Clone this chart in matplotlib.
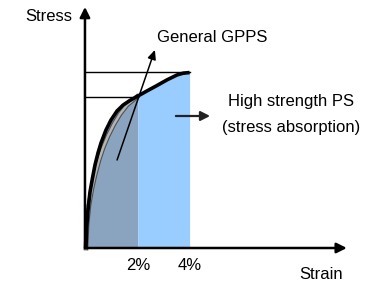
import matplotlib
matplotlib.use("Agg")
import matplotlib.pyplot as plt
import matplotlib.patheffects as pe
import numpy as np

# ---- data (strain in %, stress in arbitrary units) ----
hs_strain = [0.0, 0.019, 0.077, 0.154, 0.251, 0.347, 0.463, 0.579, 0.772, 0.965,
             1.197, 1.429, 1.699, 1.969, 2.355, 2.741, 3.127, 3.514, 3.745, 4.0]
hs_stress = [0.0, 10.27, 21.68, 31.95, 39.93, 47.35, 54.19, 59.90, 67.31, 73.02,
             78.15, 81.5, 84.2, 86.4, 89.6, 92.7, 95.9, 98.7, 99.7, 100.1]

gp_strain = [0.0, 0.039, 0.116, 0.232, 0.347, 0.502, 0.656, 0.849, 1.081, 1.313, 1.583, 1.969]
gp_stress = [0.0, 13.12, 24.53, 34.23, 41.64, 50.20, 57.04, 63.89, 70.74, 76.44, 81.57, 86.3]

tick_strain = [2, 4]
tick_labels = ["2%", "4%"]
level_stress = [100.2, 86.3]
level_strain = [4.0, 1.97]

fig = plt.figure(figsize=(3.78, 2.83), dpi=100)
ax = fig.add_axes([0, 0, 1, 1])
ax.set_xlim(-86 / 25.9, (378 - 86) / 25.9)
ax.set_ylim(-35 / 1.753, (283 - 35) / 1.753)
ax.axis("off")

font = ["Liberation Sans", "DejaVu Sans"]

hs_x = np.array(hs_strain)
hs_y = np.array(hs_stress)

# fills under the high-strength curve
split = 2.0
y_split = np.interp(split, hs_x, hs_y)
m1 = hs_x < split
x1 = np.append(hs_x[m1], split)
y1 = np.append(hs_y[m1], y_split)
ax.fill_between(x1, 0, y1, color="#8aa4c0", lw=0, zorder=1)
m2 = hs_x > split
x2 = np.insert(hs_x[m2], 0, split)
y2 = np.insert(hs_y[m2], 0, y_split)
ax.fill_between(x2, 0, y2, color="#99ccff", lw=0, zorder=1)

# horizontal level lines
for s, e in zip(level_stress, level_strain):
    ax.plot([-0.04, e], [s, s], color="black", lw=1.0, zorder=2)

# GPPS curve (gray with dark edge)
ax.plot(gp_strain, gp_stress, color="#b4b4b4", lw=1.8, zorder=3,
        path_effects=[pe.Stroke(linewidth=3.4, foreground="#505050"), pe.Normal()])
# high strength PS curve
ax.plot(hs_strain, hs_stress, color="black", lw=2.6, zorder=4, solid_capstyle="butt",
        solid_joinstyle="round")

# axes with arrows
arrow_kw = dict(arrowstyle="-|>,head_length=0.6,head_width=0.3", color="black", lw=1.8,
                shrinkA=0, shrinkB=0)
ax.annotate("", xy=(-0.04, 137.5), xytext=(-0.04, 0), arrowprops=arrow_kw, zorder=5)
ax.annotate("", xy=(10.07, 0), xytext=(-0.04, 0), arrowprops=arrow_kw, zorder=5)

# GPPS pointer arrow
ax.annotate("", xy=(2.66, 113.0), xytext=(1.2, 50.2),
            arrowprops=dict(arrowstyle="-|>,head_length=0.55,head_width=0.25", color="black", lw=1.1,
                            shrinkA=0, shrinkB=0), zorder=6)
# right pointer arrow
ax.annotate("", xy=(4.79, 75.3), xytext=(3.47, 75.3),
            arrowprops=dict(arrowstyle="-|>,head_length=0.55,head_width=0.28", color="#222222", lw=1.6,
                            shrinkA=0, shrinkB=0), zorder=6)

# texts
ax.text(-0.54, 132.3, "Stress", ha="right", va="center", fontsize=12, family=font)
ax.text(2.74, 119.8, "General GPPS", ha="left", va="center", fontsize=12, family=font)
for t, lab in zip(tick_strain, tick_labels):
    ax.text(t, -9.7, lab, ha="center", va="center", fontsize=12, family=font)
ax.text(9.09, -15.4, "Strain", ha="center", va="center", fontsize=12, family=font)
ax.text(7.92, 83.3, "High strength PS", ha="center", va="center", fontsize=12, family=font)
ax.text(7.92, 69.0, "(stress absorption)", ha="center", va="center", fontsize=12, family=font)

fig.savefig("out.png", dpi=100)
